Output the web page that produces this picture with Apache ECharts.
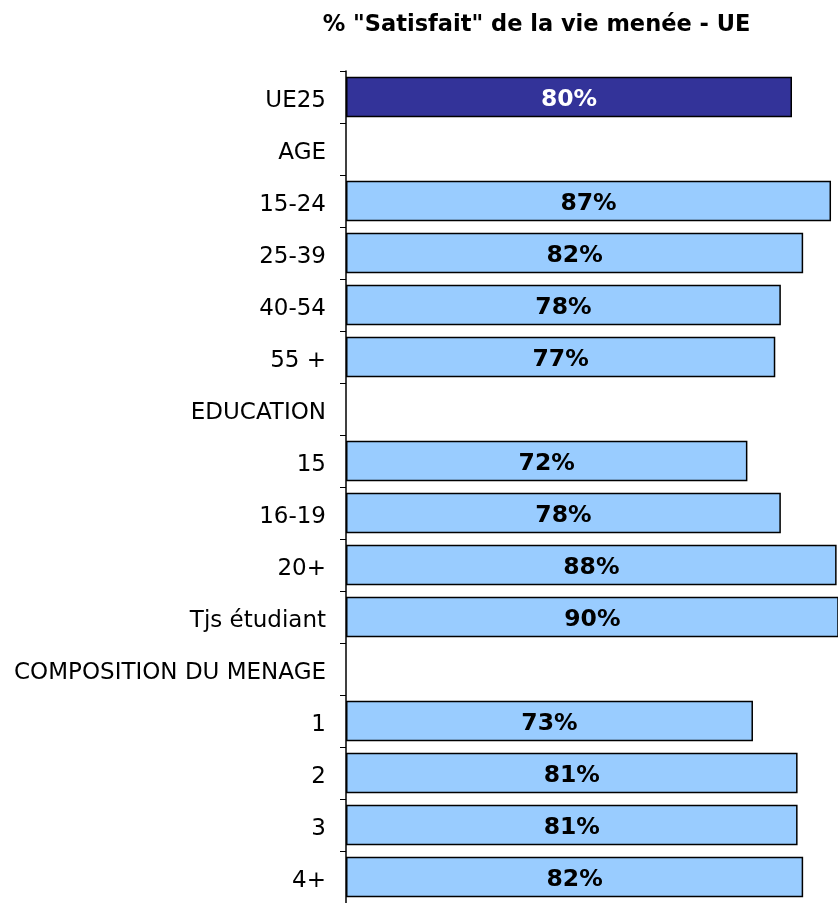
<!DOCTYPE html>
<html><head><meta charset="utf-8">
<script src="https://cdn.jsdelivr.net/npm/echarts@6/dist/echarts.min.js"></script>
<style>html,body{margin:0;padding:0;background:#fff}#c{width:838px;height:903px}</style>
</head><body><div id="c"></div>
<script>
const titleText = '% "Satisfait" de la vie menée - UE';
const categories = ['UE25','AGE','15-24','25-39','40-54','55 +','EDUCATION','15','16-19','20+','Tjs étudiant','COMPOSITION DU MENAGE','1','2','3','4+'];
const values = [80,null,87,82,78,77,null,72,78,88,90,null,73,81,81,82];
const highlightIndex = 0;

const chart = echarts.init(document.getElementById('c'));
chart.setOption({
  animation:false,
  title:{text:titleText,left:531.5,textAlign:'center',top:9,textStyle:{fontFamily:'DejaVu Sans',fontWeight:'bold',fontSize:22.5,color:'#000'}},
  grid:{left:346,top:71,right:0,height:838,containLabel:false},
  xAxis:{type:'value',min:0,max:88.25,show:false},
  yAxis:{type:'category',data:categories,inverse:true,
    axisLine:{show:true,lineStyle:{color:'#000',width:1.5}},
    axisTick:{show:true,length:6,lineStyle:{color:'#000',width:1}},
    axisLabel:{margin:20,formatter:v=>'{a|'+v+'}',
      rich:{a:{fontFamily:'DejaVu Sans',fontSize:23,color:'#000',padding:[8,0,0,0]}}},
    splitLine:{show:false}},
  series:[{type:'bar',barCategoryGap:'22%',clip:true,
    data:values.map((v,i)=>({value:v,itemStyle:{color:i===highlightIndex?'#333399':'#99CCFF'},
      label:{color:i===highlightIndex?'#fff':'#000'}})),
    itemStyle:{borderColor:'#000',borderWidth:1.5},
    label:{show:true,position:'inside',offset:[0,3],formatter:p=>p.value==null?'':p.value+'%',fontFamily:'DejaVu Sans',fontWeight:'bold',fontSize:23.5}
  }]
});
</script></body></html>
